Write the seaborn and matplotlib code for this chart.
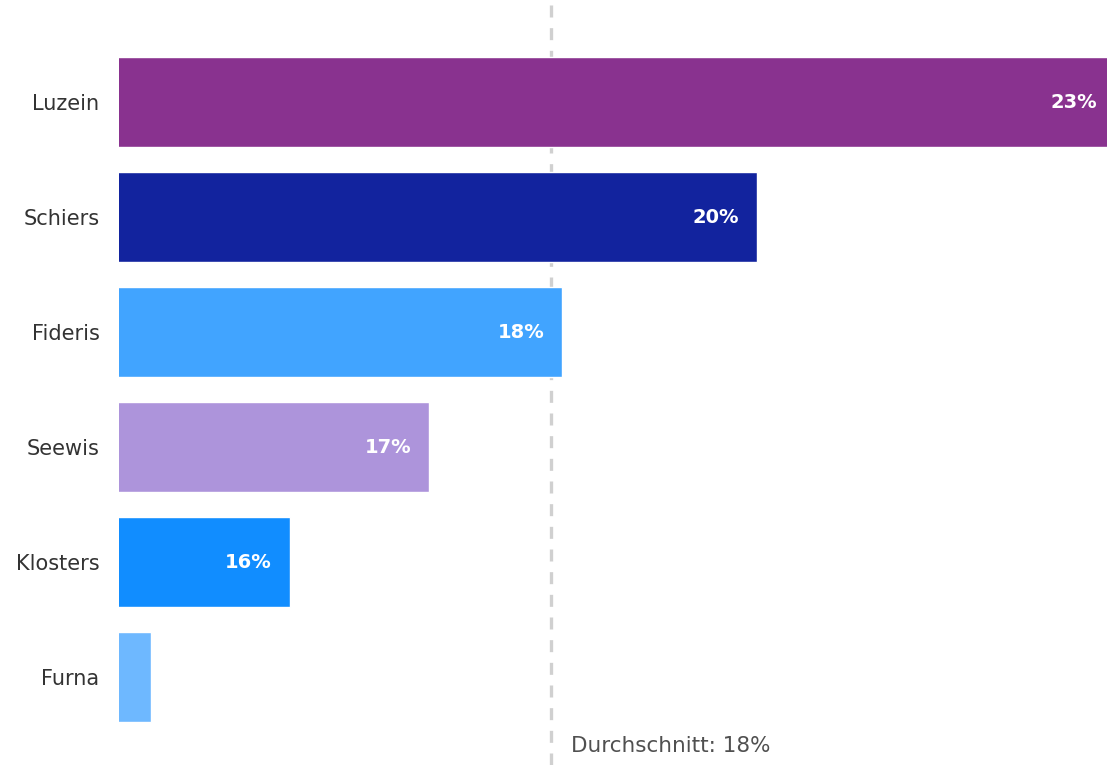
import matplotlib
matplotlib.use("Agg")
import matplotlib.pyplot as plt
import matplotlib.transforms as mtransforms
import pandas as pd
import seaborn as sns

# Share per municipality (%)
gemeinden = ["Luzein", "Schiers", "Fideris", "Seewis", "Klosters", "Furna"]
anteil = [23.06, 19.80, 18.03, 16.82, 15.55, 14.29]
durchschnitt = 17.93
farben = ["#89328F", "#12239E", "#41A4FF", "#AD94DB", "#118DFF", "#6EB8FF"]

df = pd.DataFrame({"Gemeinde": gemeinden, "Anteil": anteil})

sns.set_theme(style="white")
plt.rcParams["font.family"] = ["DejaVu Sans"]

W, H = 1107, 765
fig = plt.figure(figsize=(W / 100, H / 100), dpi=100)
left = 119 / W
ax = fig.add_axes([left, 0, 1 - left, 1])

sns.barplot(data=df, y="Gemeinde", x="Anteil", hue="Gemeinde",
            palette=dict(zip(gemeinden, farben)), order=gemeinden,
            width=0.783, legend=False, ax=ax, zorder=3, saturation=1)

x0 = 14.0
ax.set_xlim(x0, x0 + 988 / 110)
ax.set_ylim(5 + 88 / 115, -102 / 115)

# Average reference line, drawn behind the bars
ax.axvline(durchschnitt, color="#D0D0D0", lw=2.4,
           linestyle=(0, (3.6, 3.2)), zorder=1)
trans = mtransforms.blended_transform_factory(ax.transData, ax.transAxes)
ax.annotate(f"Durchschnitt: {durchschnitt:.0f}%", xy=(durchschnitt, 0.025),
            xycoords=trans, xytext=(14, 0), textcoords="offset points",
            ha="left", va="center", fontsize=15.5, color="#505050")

# Value labels inside the bars
for i, v in enumerate(anteil):
    if (v - x0) * 110 > 80:
        ax.annotate(f"{v:.0f}%", xy=(v, i), xytext=(-13, 0),
                    textcoords="offset points", ha="right", va="center",
                    fontsize=14, fontweight="bold", color="white", zorder=4,
                    annotation_clip=False)

ax.set_xlabel("")
ax.set_ylabel("")
ax.set_xticks([])
ax.tick_params(axis="y", length=0, pad=14, labelsize=15, labelcolor="#333333")
for s in ax.spines.values():
    s.set_visible(False)

fig.savefig("out.png", dpi=100)
